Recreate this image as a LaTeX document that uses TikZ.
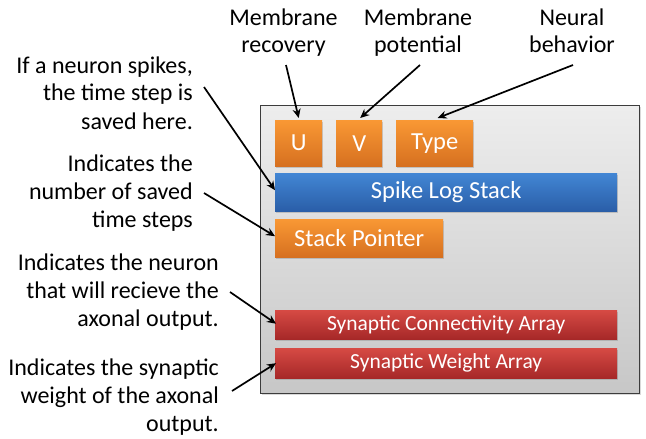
\documentclass[tikz,border=0pt]{standalone}
\usepackage{fontspec}
\setmainfont{Carlito}
\usetikzlibrary{calc,shadows,arrows.meta}
\definecolor{orT}{RGB}{249,152,52}
\definecolor{orB}{RGB}{214,112,32}
\definecolor{blT}{RGB}{66,134,212}
\definecolor{blB}{RGB}{42,94,168}
\definecolor{rdT}{RGB}{214,74,68}
\definecolor{rdB}{RGB}{166,40,40}
\definecolor{frame}{RGB}{60,60,60}
\newcommand{\lblR}[1]{\begin{tabular}[t]{@{}r@{}}#1\end{tabular}}
\newcommand{\lblC}[1]{\begin{tabular}[t]{@{}c@{}}#1\end{tabular}}
\begin{document}
\begin{tikzpicture}[x=1pt,y=-1pt,
  blk/.style={anchor=north west,inner sep=0pt,text=white,
    drop shadow={shadow xshift=1pt,shadow yshift=-1.5pt,opacity=0.35}},
  orbox/.style={blk,top color=orT,bottom color=orB,font=\fontsize{24.5}{26}\selectfont},
  blbox/.style={blk,top color=blT,bottom color=blB,font=\fontsize{24.5}{26}\selectfont},
  rdbox/.style={blk,top color=rdT,bottom color=rdB,font=\fontsize{21.5}{24}\selectfont},
  lbl/.style={inner sep=0pt,font=\fontsize{24}{28}\selectfont},
  toplbl/.style={inner sep=0pt,anchor=base,font=\fontsize{24}{27}\selectfont},
  arr/.style={draw=black,line width=1.7pt,-{Stealth[length=9pt,width=8pt]}}]
\useasboundingbox (0,0) rectangle (646,439);
% outer container
\node[anchor=north west,inner sep=0pt,minimum width=379pt,minimum height=288pt,
  top color=black!7,bottom color=black!22,draw=frame,line width=1.3pt,
  drop shadow={shadow xshift=1.5pt,shadow yshift=-1.5pt,opacity=0.3}] (outer) at (260,105) {};
% blocks
\node[orbox,minimum width=47pt,minimum height=46pt] (U) at (275,120) {U};
\node[orbox,minimum width=46pt,minimum height=46pt] (V) at (336,120) {V};
\node[orbox,minimum width=77pt,minimum height=46pt] (T) at (396,120) {Type};
\node[blbox,minimum width=342pt,minimum height=38pt] (S) at (275,173) {Spike Log Stack};
\node[orbox,minimum width=168pt,minimum height=38pt] (P) at (275,219) {Stack Pointer};
\node[rdbox,minimum width=342pt,minimum height=29pt] (C) at (275,310) {Synaptic Connectivity Array};
\node[rdbox,minimum width=342pt,minimum height=30pt] (W) at (275,348) {Synaptic Weight Array};
% labels
\node[toplbl] (lrec) at (283.5,26) {\lblC{Membrane\\recovery}};
\node[toplbl] (lpot) at (418,26) {\lblC{Membrane\\potential}};
\node[toplbl] (lneu) at (572,26) {\lblC{Neural\\behavior}};
\node[lbl,anchor=base east] (l1) at (193,73) {\lblR{If a neuron spikes,\\the time step is\\saved here.}};
\node[lbl,anchor=base east] (l2) at (193,171) {\lblR{Indicates the\\number of saved\\time steps}};
\node[lbl,anchor=base east] (l3) at (219,270) {\lblR{Indicates the neuron\\that will recieve the\\axonal output.}};
\node[lbl,anchor=base east] (l4) at (219,375) {\lblR{Indicates the synaptic\\weight of the axonal\\output.}};
% tails
\coordinate (t1) at (204,87);
\coordinate (t2) at (204,193);
\coordinate (t3) at (230,292);
\coordinate (t4) at (232,391);
\coordinate (trec) at (286,65);
\coordinate (tpot) at (420,65);
\coordinate (tneu) at (573,65);
% arrows
\draw[arr] (t1) -- ($(S.west)+(0,-2)$);
\draw[arr] (t2) -- ($(P.west)+(0,-2)$);
\draw[arr] (t3) -- ($(C.west)+(1,-1)$);
\draw[arr] (t4) -- ($(W.west)+(1,0)$);
\draw[arr] (trec) -- ($(U.north)+(0,-2)$);
\draw[arr] (tpot) -- ($(V.north)+(1,-2)$);
\draw[arr] (tneu) -- ($(T.north)+(3,-2)$);
\end{tikzpicture}
\end{document}
